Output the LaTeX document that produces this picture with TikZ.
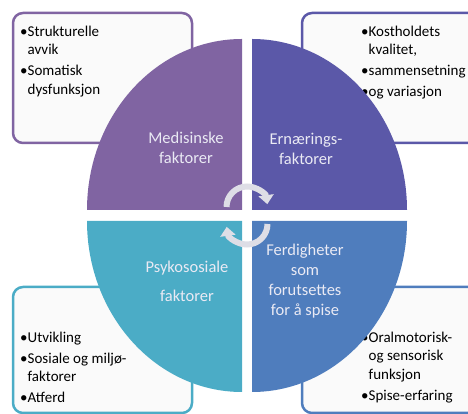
\documentclass[tikz,border=0pt]{standalone}
\usepackage{fontspec}
\setmainfont{Carlito}
\usetikzlibrary{arrows.meta}
\definecolor{medpurple}{HTML}{8064A2}
\definecolor{ernindigo}{HTML}{5B58A8}
\definecolor{psyteal}{HTML}{4BACC6}
\definecolor{ferdblue}{HTML}{4F7DBD}
\definecolor{labeltint}{HTML}{EAEAF4}
\definecolor{cyclegray}{HTML}{DEDEE6}
\newcommand{\ind}{\phantom{\textbullet}}

\begin{document}
\begin{tikzpicture}[x=1pt,y=1pt,
    factbox/.style={rounded corners=10pt,line width=2.5pt,fill=white!98!black},
    boxtext/.style={anchor=north west,inner sep=0pt,align=left,
      font=\fontsize{15}{18.5}\selectfont},
    quadtext/.style={text=labeltint,inner sep=0pt,align=center,
      font=\fontsize{16.5}{20}\selectfont},
    cyclearrow/.style={draw=cyclegray,line width=6pt,
      -{Triangle[width=15pt,length=9pt]}}]
  \useasboundingbox (0,0) rectangle (468,414);
  \clip (0,0) rectangle (468,414);
  % boxes behind the circle
  \draw[factbox,draw=medpurple] (13,271) rectangle (192,401);
  \draw[factbox,draw=ernindigo] (302,271) rectangle (490,401);
  \draw[factbox,draw=psyteal] (13,1) rectangle (192,127);
  \draw[factbox,draw=ferdblue] (302,1) rectangle (490,127);
  \node[boxtext] (medlist) at (20,388.5)
    {\textbullet Strukturelle\\ \ind avvik\\[2.5pt] \textbullet Somatisk\\ \ind dysfunksjon};
  \node[boxtext] (ernlist) at (361,388.5)
    {\textbullet Kostholdets\\ \ind kvalitet,\\[2.5pt] \textbullet sammensetning\\[2.5pt] \textbullet og variasjon};
  \node[boxtext] (psylist) at (20,82.5)
    {\textbullet Utvikling\\[2.5pt] \textbullet Sosiale og miljø-\\ \ind faktorer\\[2.5pt] \textbullet Atferd};
  \node[boxtext] (ferdlist) at (361,82.5)
    {\textbullet Oralmotorisk-\\ \ind og sensorisk\\ \ind funksjon\\[2.5pt] \textbullet Spise-erfaring};
  % four quarters
  \fill[medpurple] (242,204) -- (242,375)
    arc[start angle=90,end angle=180,x radius=155,y radius=171] -- cycle;
  \fill[ernindigo] (252,204) -- (407,204)
    arc[start angle=0,end angle=90,x radius=155,y radius=171] -- cycle;
  \fill[psyteal] (242,193) -- (87,193)
    arc[start angle=180,end angle=270,x radius=155,y radius=171] -- cycle;
  \fill[ferdblue] (252,193) -- (252,22)
    arc[start angle=270,end angle=360,x radius=155,y radius=171] -- cycle;
  \node[quadtext] (medisinske) at (186,266) {Medisinske\\faktorer};
  \node[quadtext] (ernaering) at (306,265) {Ernærings-\\faktorer};
  \node[quadtext] (psykososiale) at (187,132.5) {Psykososiale\\[9pt]faktorer};
  \node[quadtext] (ferdigheter) at (305,133) {Ferdigheter\\som\\forutsettes\\for å spise};
  % cycle arrows in the middle
  \draw[cyclearrow] (226.5,207) arc[start angle=180,end angle=8,radius=20.5];
  \draw[cyclearrow] (267.5,190) arc[start angle=0,end angle=-172,radius=20.5];
\end{tikzpicture}
\end{document}
